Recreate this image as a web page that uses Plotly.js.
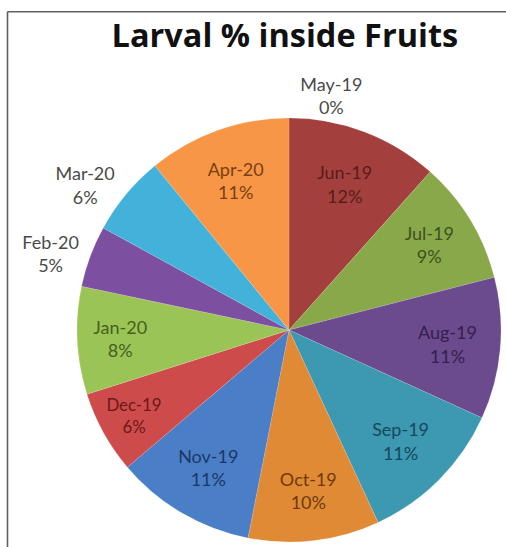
<!DOCTYPE html>
<html>
<head>
<meta charset="utf-8">
<script src="https://cdn.plot.ly/plotly-3.0.1.min.js"></script>
<style>
html,body{margin:0;padding:0;background:#fff;}
#chart{width:506px;height:547px;}
</style>
</head>
<body>
<div id="chart"></div>
<script>
// Data
var months = ["May-19","Jun-19","Jul-19","Aug-19","Sep-19","Oct-19","Nov-19","Dec-19","Jan-20","Feb-20","Mar-20","Apr-20"];
var larvalPct = [0, 11.6, 9.4, 10.8, 11.3, 10.0, 10.7, 6.3, 8.2, 4.7, 6.1, 10.9];

// Styles
var sliceColors = ["#4F81BD","#A3403E","#88A84A","#6B4A8E","#3D98B2","#E08A35","#4A7EC6","#CE4B4B","#9BC456","#7D4FA0","#42B2DA","#F79646"];
var labelColors = ["#4a4a4a","#5A1C1A","#3E521C","#33204F","#17495A","#6E3A0C","#1C3868","#6A1A18","#46601E","#4a4a4a","#4a4a4a","#7A3F10"];
var labelPos = ["outside","inside","inside","inside","inside","inside","inside","inside","inside","outside","outside","inside"];

var trace = {
  type: "pie",
  labels: months,
  values: larvalPct,
  sort: false,
  direction: "clockwise",
  rotation: 0,
  marker: {colors: sliceColors, line: {color: "rgba(255,255,255,0.25)", width: 0.5}},
  texttemplate: "%{label}<br>%{percent:.0%}",
  textposition: labelPos,
  insidetextorientation: "horizontal",
  textfont: {family: "Lato, 'Open Sans', sans-serif", size: 18, color: labelColors},
  showlegend: false,
  hoverinfo: "label+percent",
  domain: {x: [0.1522, 0.9901], y: [0.0091, 0.7843]}
};

var layout = {
  width: 506,
  height: 547,
  margin: {l: 0, r: 0, t: 0, b: 0},
  paper_bgcolor: "#ffffff",
  title: {
    text: "<b>Larval % inside Fruits</b>",
    font: {family: "'Open Sans', Lato, sans-serif", size: 32.5, color: "#111111"},
    x: 0.563, xanchor: "center",
    y: 0.935, yanchor: "middle"
  },
  shapes: [
    {type: "line", xref: "paper", yref: "paper", x0: 0.0148, x1: 1.01, y0: 0.9785, y1: 0.9785, line: {color: "#5f5f5f", width: 1.6}},
    {type: "line", xref: "paper", yref: "paper", x0: 0.0148, x1: 0.0148, y0: -0.01, y1: 0.9785, line: {color: "#5f5f5f", width: 1.6}}
  ]
};

Plotly.newPlot("chart", [trace], layout, {displayModeBar: false, staticPlot: true});
</script>
</body>
</html>
